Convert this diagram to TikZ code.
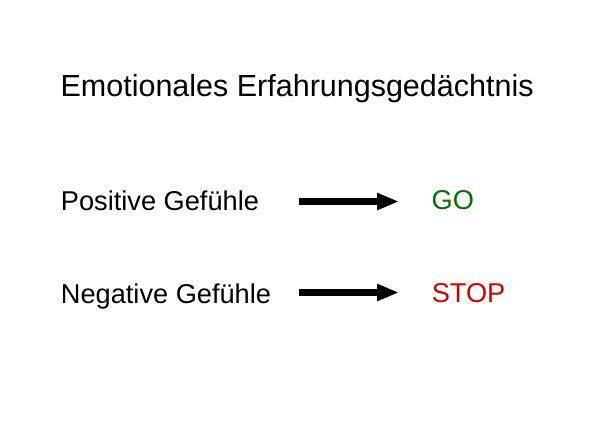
\documentclass[tikz,border=0pt]{standalone}
\usepackage{fontspec}
\setmainfont{Liberation Sans}
\usetikzlibrary{arrows.meta}
\definecolor{gogreen}{RGB}{0,112,0}
\definecolor{stopred}{RGB}{204,0,0}
\tikzset{
  lbl/.style={anchor=base west, inner sep=0pt, outer sep=0pt, font=\fontsize{27.2}{31}\selectfont},
  ttl/.style={anchor=base west, inner sep=0pt, outer sep=0pt, font=\fontsize{30.5}{34}\selectfont},
  bigarrow/.style={line width=6.5pt, -{Triangle[length=22pt,width=16pt]}}
}
\begin{document}
\begin{tikzpicture}[x=1pt,y=-1pt]
\useasboundingbox[fill=white] (0,0) rectangle (600,424);
\node[ttl] (title) at (60.6,96.5) {Emotionales Erfahrungsgedächtnis};
\node[lbl] (pos) at (60.9,210) {Positive Gefühle};
\node[lbl] (neg) at (60.9,303) {Negative Gefühle};
\node[lbl, text=gogreen] (go) at (431.7,209.5) {GO};
\node[lbl, text=stopred] (stop) at (431.8,302.5) {STOP};
\coordinate (a1s) at (299,201.5);
\coordinate (a1e) at (399,201.5);
\coordinate (a2s) at (299,292.5);
\coordinate (a2e) at (399,292.5);
\draw[bigarrow] (a1s) -- (a1e);
\draw[bigarrow] (a2s) -- (a2e);
\end{tikzpicture}
\end{document}
